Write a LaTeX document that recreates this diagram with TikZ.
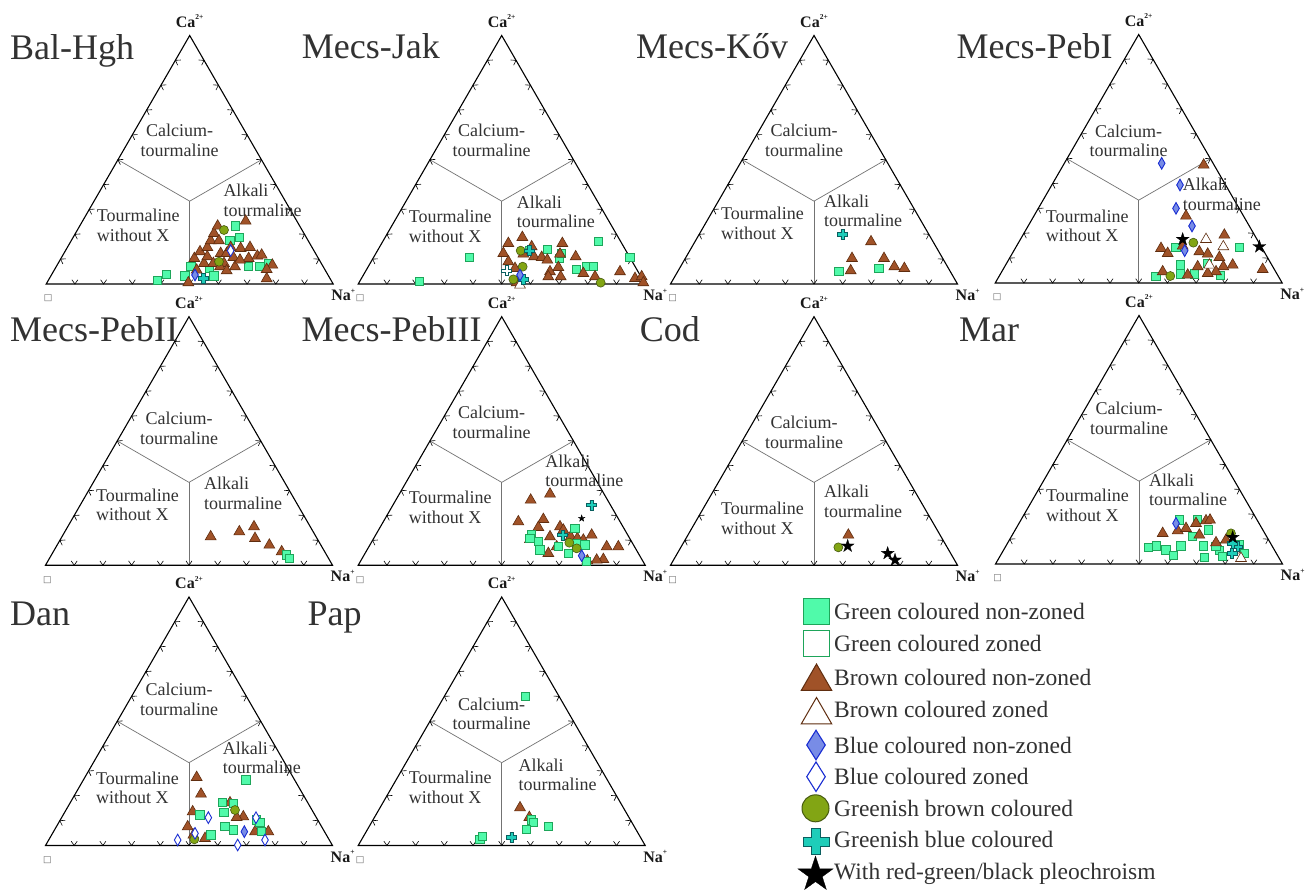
\documentclass[tikz,border=0pt]{standalone}
\usepackage{fontspec}
\setmainfont{Liberation Serif}
\newfontfamily\djv{DejaVu Sans}
\usetikzlibrary{shapes.geometric}
\definecolor{grnF}{RGB}{80,250,170}
\definecolor{grnD}{RGB}{30,165,90}
\definecolor{brnF}{RGB}{160,82,40}
\definecolor{brnD}{RGB}{95,45,15}
\definecolor{bluF}{RGB}{120,140,230}
\definecolor{bluD}{RGB}{25,45,210}
\definecolor{cirF}{RGB}{130,165,20}
\definecolor{cirD}{RGB}{70,90,15}
\definecolor{crsF}{RGB}{30,205,185}
\definecolor{crsD}{RGB}{10,95,95}
\definecolor{txt}{RGB}{50,50,50}
\newcommand\sups[1]{\raisebox{0.45em}{\fontsize{7.5}{7.5}\selectfont #1}}
\tikzset{
 triedge/.style={draw=black, line width=1.1pt, line join=miter},
 midln/.style={draw=black!55, line width=0.7pt},
 tk/.style={draw=black, line width=0.6pt},
 vlab/.style={font=\fontsize{16}{16}\selectfont\bfseries, text=black!90, inner sep=0},
 vac/.style={font=\djv\fontsize{9}{9}\selectfont, text=black!60, inner sep=0},
 reg/.style={font=\fontsize{18}{19.5}\selectfont, text=txt, inner sep=0},
 ttl/.style={font=\fontsize{36}{36}\selectfont, text=txt, inner sep=0},
 lgt/.style={font=\fontsize{23.5}{24}\selectfont, text=txt, inner sep=0, anchor=base west},
 msq/.style={shape=rectangle, draw=grnD, fill=grnF, line width=0.9pt, minimum size=8.5pt, inner sep=0},
 mtri/.style={regular polygon, regular polygon sides=3, draw=brnD, fill=brnF, line width=0.6pt, minimum size=12.5pt, inner sep=0},
 mdia/.style={diamond, draw=bluD, fill=bluF, line width=0.9pt, minimum width=7pt, minimum height=12pt, inner sep=0},
 mcirc/.style={circle, draw=cirD, fill=cirF, line width=0.6pt, minimum size=9pt, inner sep=0},
 mstar/.style={star, star points=5, star point ratio=2.6, fill=black, draw=black, line width=0.3pt, minimum size=13.5pt, inner sep=0},
 gsq/.pic={\node[msq]{};},
 btri/.pic={\node[mtri]{};},
 btrio/.pic={\node[mtri, fill=white]{};},
 bdia/.pic={\node[mdia]{};},
 bdiao/.pic={\node[mdia, fill=white]{};},
 gcirc/.pic={\node[mcirc]{};},
 bstar/.pic={\node[mstar]{};},
 sstar/.pic={\node[mstar, minimum size=7pt]{};},
 gcr/.pic={\path[draw=crsD, fill=crsF, line width=0.7pt] (-1.7,-5) -- (1.7,-5) -- (1.7,-1.7) -- (5,-1.7) -- (5,1.7) -- (1.7,1.7) -- (1.7,5) -- (-1.7,5) -- (-1.7,1.7) -- (-5,1.7) -- (-5,-1.7) -- (-1.7,-1.7) -- cycle;},
 gcro/.pic={\path[draw=crsD, fill=white, line width=0.7pt] (-1.7,-5) -- (1.7,-5) -- (1.7,-1.7) -- (5,-1.7) -- (5,1.7) -- (1.7,1.7) -- (1.7,5) -- (-1.7,5) -- (-1.7,1.7) -- (-5,1.7) -- (-5,-1.7) -- (-1.7,-1.7) -- cycle;}
}
% #1 id, #2 apex x, #3 apex y, #4 calcium dy, #5 alkali dx, #6 alkali dy, #7 tourmaline dy
\newcommand\tpanel[7]{%
\begin{scope}[shift={(#2,#3)}]
 \coordinate (A#1) at (0,0);
 \coordinate (L#1) at (-143.5,248.5);
 \coordinate (R#1) at (143.5,248.5);
 \coordinate (C#1) at (0,165.67);
 \coordinate (ML#1) at (-71.75,124.25);
 \coordinate (MR#1) at (71.75,124.25);
 \coordinate (MB#1) at (0,248.5);
 \draw[midln] (C#1) -- (ML#1);
 \draw[midln] (C#1) -- (MR#1);
 \draw[midln] (C#1) -- (MB#1);
 \foreach \i in {1,...,9} {
  \draw[tk] ({-143.5+28.7*\i-3},244.2) -- ({-143.5+28.7*\i},248.5) -- ({-143.5+28.7*\i+3},244.2);
  \draw[tk] ({-143.5+14.35*\i+5.4},{248.5-24.85*\i-0.35}) -- ({-143.5+14.35*\i},{248.5-24.85*\i}) -- ({-143.5+14.35*\i+2.4},{248.5-24.85*\i+4.85});
  \draw[tk] ({143.5-14.35*\i-5.4},{248.5-24.85*\i-0.35}) -- ({143.5-14.35*\i},{248.5-24.85*\i}) -- ({143.5-14.35*\i-2.4},{248.5-24.85*\i+4.85});
 }
 \draw[triedge] (A#1) -- (L#1) -- (R#1) -- cycle;
 \node[vlab, anchor=base] (ca#1) at (0,-8.5) {Ca\sups{2+}};
 \node[vlab, anchor=base west] (na#1) at (141.5,265) {Na\sups{+}};
 \node[vac] (vc#1) at (-141.5,263) {□};
 \node[reg, align=center] (cal#1) at (-10,{#4+9.75}) {Calcium-\\tourmaline};
 \node[reg, align=left, anchor=west] (alk#1) at (#5,{#6+9.75}) {Alkali\\tourmaline};
 \node[reg, align=left, anchor=west] (tou#1) at (-93,{#7+9.75}) {Tourmaline\\without X};
\end{scope}}
\newcommand\pts[4]{%
\begin{scope}[shift={(#1,#2)}]
 \foreach \a/\b in {#4} \pic at ({\a/3},{\b/3}) {#3};
\end{scope}}
\begin{document}
\begin{tikzpicture}[x=1pt,y=-1pt]
\useasboundingbox[fill=white] (0,0) rectangle (1316,889);
% panels
\tpanel{1}{189.7}{35.5}{95}{33.6}{155}{180}
\tpanel{2}{501.7}{35.5}{95}{15}{166.7}{181}
\tpanel{3}{814}{35.5}{95}{10}{165.7}{178.3}
\tpanel{4}{1138.7}{34.5}{96.7}{44}{150}{181.7}
\tpanel{5}{189}{316.7}{101.7}{15}{166.7}{178.3}
\tpanel{6}{501.7}{316.7}{96}{43.5}{144.3}{181}
\tpanel{7}{814}{316.7}{105.7}{10}{175}{191.7}
\tpanel{8}{1139}{315.5}{93.3}{10}{164.7}{180}
\tpanel{9}{189}{597}{92.7}{33.7}{151}{181}
\tpanel{10}{501.7}{597}{107.3}{16.7}{168.3}{180.7}
% titles
\node[ttl, anchor=base west] (t1) at (10,59.3) {Bal-Hgh};
\node[ttl, anchor=base east] (t2) at (440,58.5) {Mecs-Jak};
\node[ttl, anchor=base east] (t3) at (788.3,58.5) {Mecs-Kőv};
\node[ttl, anchor=base east] (t4) at (1112.7,58.5) {Mecs-PebI};
\node[ttl, anchor=base west] (t5) at (10,341.7) {Mecs-PebII};
\node[ttl, anchor=base east] (t6) at (481.7,341.7) {Mecs-PebIII};
\node[ttl, anchor=base east] (t7) at (700,341.7) {Cod};
\node[ttl, anchor=base east] (t8) at (1019.3,341.7) {Mar};
\node[ttl, anchor=base west] (t9) at (10,625) {Dan};
\node[ttl, anchor=base west] (t10) at (307.3,625) {Pap};
% ---- data: panel 1
\pts{0}{0}{gsq}{473/842, 500/823, 555/828, 573/800, 628/805, 642/828, 706/678, 718/712, 690/722, 745/800, 780/800, 805/790}
\pts{0}{0}{btri}{565/848, 583/775, 600/755, 612/790, 622/742, 632/722, 642/700, 653/678, 657/722, 662/760, 672/790, 680/760, 692/742, 700/772, 722/745, 737/663, 746/775, 750/742, 772/768, 785/765, 800/836, 817/795, 800/808, 622/770, 640/790, 660/800, 680/812, 705/800, 590/810, 720/780}
\pts{0}{0}{gcirc}{672/690, 657/785}
\pts{0}{0}{bdiao}{692/752}
\pts{0}{0}{bdia}{585/825}
\pts{0}{0}{gcr}{610/835}
% panel 2
\pts{330}{0}{gsq}{268/845, 418/772, 598/753, 652/748, 688/775, 695/760, 740/808, 770/800, 790/800, 805/725, 900/772}
\pts{330}{0}{btri}{535/730, 577/712, 520/760, 535/785, 555/805, 580/762, 605/740, 612/770, 635/772, 652/780, 697/730, 690/762, 737/770, 685/802, 660/815, 692/830, 655/830, 760/820, 795/830, 870/815, 915/835, 935/830, 940/848, 560/848}
\pts{330}{0}{btrio}{570/855}
\pts{330}{0}{gcirc}{572/752, 578/800, 550/838, 812/848}
\pts{330}{0}{gcr}{580/838, 598/752}
\pts{330}{0}{gcro}{530/812}
\pts{330}{0}{bdia}{570/825}
% panel 3
\pts{660}{0}{gsq}{537/815, 657/805}
\pts{660}{0}{btri}{633/725, 576/775, 672/775, 703/800, 733/805, 572/812}
\pts{660}{0}{gcr}{548/703}
% panel 4
\pts{986}{0}{gsq}{570/742, 583/795, 583/822, 625/822, 510/830, 760/742, 703/826, 665/790}
\pts{986}{0}{btri}{653/495, 600/648, 525/745, 545/760, 590/738, 640/755, 665/762, 700/772, 715/705, 740/795, 712/800, 690/815, 665/820, 635/800, 530/815, 830/808, 605/825}
\pts{986}{0}{btrio}{660/718, 712/740, 670/795}
\pts{986}{0}{gcirc}{622/728, 553/828}
\pts{986}{0}{bdia}{527/490, 582/555, 570/625, 618/678, 596/752}
\pts{986}{0}{bstar}{590/718, 820/740}
% panel 5
\pts{0}{290}{btri}{632/740, 718/725, 762/710, 765/745, 808/765, 845/785}
\pts{0}{290}{gsq}{860/795, 868/805}
% panel 6
\pts{330}{290}{btri}{602/630, 660/612, 565/695, 640/688, 625/712, 600/748, 660/740, 690/710, 700/720, 722/740, 742/745, 760/750, 785/735, 655/790, 680/770, 830/770, 865/770, 820/808, 800/810, 772/812}
\pts{330}{290}{gsq}{605/735, 600/745, 625/755, 630/780, 685/770, 715/790, 735/715, 765/765, 770/815, 740/760}
\pts{330}{290}{gcirc}{718/758, 740/775}
\pts{330}{290}{gcr}{785/645, 698/735}
\pts{330}{290}{bdia}{755/797}
\pts{330}{290}{sstar}{755/685}
% panel 7
\pts{660}{290}{btri}{565/735}
\pts{660}{290}{gcirc}{535/772}
\pts{660}{290}{bstar}{563/768, 683/790, 705/810}
% panel 8
\pts{986}{290}{gsq}{488/772, 512/768, 540/780, 562/797, 585/768, 620/740, 652/768, 668/720, 655/803, 700/782, 710/800, 580/690, 635/688, 775/790, 760/765, 690/770}
\pts{986}{290}{btri}{530/730, 575/722, 600/715, 630/700, 660/692, 672/690, 640/735, 690/758, 720/750}
\pts{986}{290}{btrio}{765/805, 745/780}
\pts{986}{290}{bdia}{570/700}
\pts{986}{290}{gcirc}{735/730}
\pts{986}{290}{gcr}{738/790, 755/770, 740/760}
\pts{986}{290}{bstar}{740/742}
% panel 9
\pts{0}{580}{btri}{590/592, 603/642, 578/695, 563/740, 580/765, 615/775, 690/668, 730/710, 710/712, 765/755, 805/755}
\pts{0}{580}{gsq}{738/600, 667/668, 672/698, 700/670, 600/705, 675/740, 700/750, 770/720, 785/755, 633/765, 780/728}
\pts{0}{580}{gcirc}{705/690, 583/778}
\pts{0}{580}{bdiao}{625/713, 533/780, 713/795, 768/713, 795/780, 585/760}
\pts{0}{580}{bdia}{733/755}
% panel 10
\pts{300}{580}{btri}{660/683, 688/712}
\pts{300}{580}{gsq}{677/350, 540/778, 548/770, 695/720, 700/728, 680/748, 745/740}
\pts{300}{580}{gcr}{635/772}
% ---- legend
\node[msq, minimum size=26pt, line width=1.3pt] (lg1) at (816.5,611.7) {};
\node[msq, fill=white, minimum size=26pt, line width=1.3pt] (lg2) at (816.5,643.3) {};
\node[mtri, minimum size=35pt, line width=1pt] (lg3) at (816.5,681.5) {};
\node[mtri, fill=white, minimum size=35pt, line width=1pt] (lg4) at (816.5,715) {};
\node[mdia, minimum width=19pt, minimum height=30pt, line width=1.1pt] (lg5) at (816,745) {};
\node[mdia, fill=white, minimum width=19pt, minimum height=30pt, line width=1.1pt] (lg6) at (816,776.7) {};
\node[mcirc, minimum size=27pt, line width=1pt] (lg7) at (815.5,808.3) {};
\path[draw=crsD, fill=crsF, line width=1.1pt] (811.8,828.7) -- (820.8,828.7) -- (820.8,837.2) -- (829.3,837.2) -- (829.3,846.2) -- (820.8,846.2) -- (820.8,854.7) -- (811.8,854.7) -- (811.8,846.2) -- (803.3,846.2) -- (803.3,837.2) -- (811.8,837.2) -- cycle;
\node[mstar, minimum size=37pt] (lg9) at (815.5,874.5) {};
\node[lgt] (lt1) at (834,619.5) {Green coloured non-zoned};
\node[lgt] (lt2) at (834,651.1) {Green coloured zoned};
\node[lgt] (lt3) at (834,685.5) {Brown coloured non-zoned};
\node[lgt] (lt4) at (834,717.8) {Brown coloured zoned};
\node[lgt] (lt5) at (834,753.5) {Blue coloured non-zoned};
\node[lgt] (lt6) at (834,784.5) {Blue coloured zoned};
\node[lgt] (lt7) at (834,816.1) {Greenish brown coloured};
\node[lgt] (lt8) at (834,847.8) {Greenish blue coloured};
\node[lgt] (lt9) at (834,879.5) {With red-green/black pleochroism};
\end{tikzpicture}
\end{document}
